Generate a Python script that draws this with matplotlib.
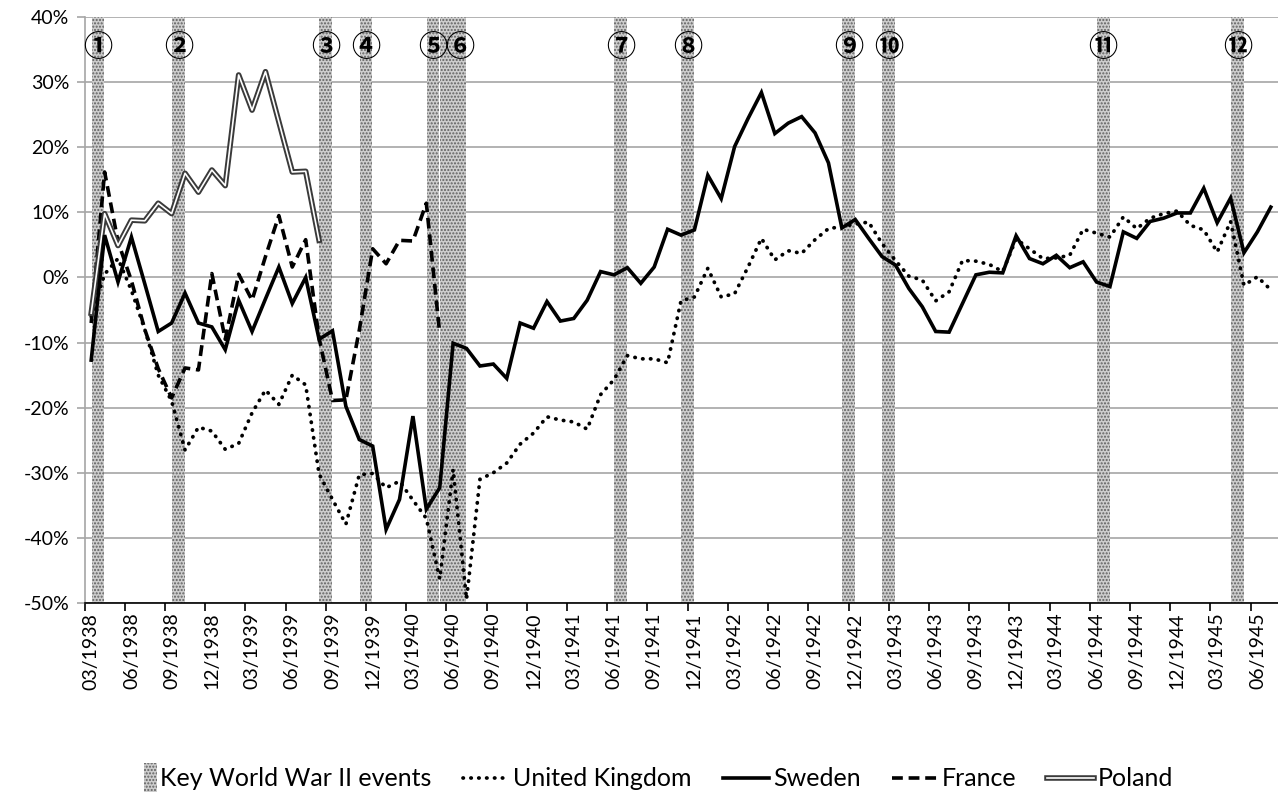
import numpy as np
import matplotlib
matplotlib.use("Agg")
import matplotlib.pyplot as plt
import matplotlib.patches as mpatches
import matplotlib.patheffects as pe
from matplotlib.legend_handler import HandlerPatch

plt.rcParams['font.family'] = ['Lato', 'DejaVu Sans']

# Monthly change, %, from 03/1938 to 07/1945 (one value per month)
sweden = [-12.7, 6.5, -0.7, 6.2, -1.0, -8.3, -7.0, -2.4, -7.0, -7.6,
          -11.1, -3.5, -8.3, -3.3, 1.6, -4.0, 0.0, -9.5, -8.2, -19.8,
          -24.9, -25.9, -38.7, -34.1, -21.3, -35.6, -32.3, -10.1, -10.9, -13.6,
          -13.3, -15.5, -7.0, -7.8, -3.7, -6.7, -6.3, -3.5, 0.9, 0.4,
          1.5, -0.9, 1.6, 7.4, 6.5, 7.3, 15.7, 12.1, 20.1, 24.4,
          28.4, 22.1, 23.7, 24.7, 22.2, 17.6, 7.6, 8.9, 6.0, 3.2,
          1.9, -1.7, -4.5, -8.3, -8.4, -4.0, 0.4, 0.8, 0.7, 6.4,
          2.9, 2.1, 3.4, 1.5, 2.4, -0.7, -1.4, 7.0, 6.0, 8.6,
          9.1, 9.9, 9.9, 13.7, 8.4, 12.2, 3.8, 7.0, 10.8]
uk = [-6.0, 0.5, 2.9, -2.0, -8.0, -15.0, -19.0, -26.5, -23.0, -23.6,
      -26.4, -25.5, -20.8, -17.3, -19.5, -15.0, -16.5, -30.2, -34.1, -37.9,
      -30.3, -30.1, -32.3, -31.3, -34.2, -37.0, -46.3, -29.5, -49.4, -31.0,
      -30.0, -28.5, -25.6, -23.9, -21.4, -21.9, -22.2, -23.3, -18.0, -15.7,
      -12.0, -12.5, -12.5, -13.1, -3.6, -3.0, 1.4, -3.0, -2.5, 1.6,
      6.0, 2.7, 4.1, 3.7, 5.8, 7.5, 7.8, 8.2, 8.5, 5.2,
      2.6, 0.2, -0.4, -3.6, -2.2, 2.6, 2.5, 2.0, 0.9, 5.9,
      4.4, 2.9, 3.0, 3.4, 7.4, 6.8, 6.2, 9.3, 7.5, 9.1,
      9.8, 10.2, 8.0, 7.3, 3.9, 8.6, -1.2, 0.1, -1.9]
france = [-7.0, 16.2, 5.5, -0.5, -8.0, -14.0, -18.5, -13.9, -14.2, 0.6,
          -9.5, 0.5, -3.5, 3.2, 9.5, 1.6, 5.8, -9.3, -18.9, -18.8,
          -8.1, 4.4, 2.1, 5.7, 5.6, 11.4, -8.6]
poland = [-5.5, 9.8, 4.9, 8.8, 8.7, 11.4, 9.8, 16.0, 13.1, 16.5,
          14.1, 31.1, 25.7, 31.6, 23.9, 16.2, 16.3, 5.7]

tick_labels = ['03/1938', '06/1938', '09/1938', '12/1938', '03/1939', '06/1939',
               '09/1939', '12/1939', '03/1940', '06/1940', '09/1940', '12/1940',
               '03/1941', '06/1941', '09/1941', '12/1941', '03/1942', '06/1942',
               '09/1942', '12/1942', '03/1943', '06/1943', '09/1943', '12/1943',
               '03/1944', '06/1944', '09/1944', '12/1944', '03/1945', '06/1945']

# key events, given as month boundaries (between month k-1 and month k)
event_bounds = [1, 7, 18, 21, 26, 27, 28, 40, 45, 57, 60, 76, 86]
marker_bounds = [1, 7, 18, 21, 26, 28, 40, 45, 57, 60, 76, 86]
marker_text = ['①', '②', '③', '④', '⑤', '⑥', '⑦', '⑧', '⑨', '⑩', '⑪', '⑫']

fig = plt.figure(figsize=(12.78, 7.94), dpi=100)
ax = fig.add_axes([84.5 / 1278, 1 - 603 / 794, 1193 / 1278, 586 / 794])

grey = '#a6a6a6'
ax.yaxis.grid(True, color=grey, lw=1.2, zorder=0)
ax.set_axisbelow(True)

bars = ax.bar(np.array(event_bounds) - 0.5, 90, bottom=-50, width=0.95,
              facecolor='#cdcdcd', edgecolor='#606060', linewidth=0,
              hatch='.....', zorder=1.5)

ax.plot(np.arange(len(uk)), uk, color='black', lw=2.7, linestyle=(0, (0.1, 2.0)),
        dash_capstyle='round', zorder=3, label='United Kingdom')
ax.plot(np.arange(len(sweden)), sweden, color='black', lw=2.6, zorder=4,
        solid_joinstyle='miter', label='Sweden')
ax.plot(np.arange(len(france)), france, color='black', lw=2.6, linestyle=(0, (3, 1.6)),
        zorder=3, label='France')
ax.plot(np.arange(len(poland)), poland, color='white', lw=1.2, zorder=3, label='Poland',
        path_effects=[pe.Stroke(linewidth=4.0, foreground='#3a3a3a'), pe.Normal()])

for b, t in zip(marker_bounds, marker_text):
    ax.text(b - 0.5, 35.4, t, ha='center', va='center', fontsize=21, fontweight='bold',
            family=['Noto Sans CJK JP', 'DejaVu Sans'], zorder=5)

ax.set_xlim(-0.5, 88.5)
ax.set_ylim(-50, 40)
ax.set_yticks(np.arange(-50, 41, 10))
ax.yaxis.set_major_formatter(plt.FuncFormatter(lambda v, p: f'{v:.0f}%'))
ax.tick_params(axis='y', length=6, color=grey, width=1.2, pad=5, labelsize=14)

ax.set_xticks(np.arange(0, 89, 3))
ax.set_xticklabels(tick_labels, rotation=90, fontsize=14)
ax.set_xticks(np.arange(-0.5, 88.5, 3), minor=True)
ax.tick_params(axis='x', which='major', length=0, pad=7)
ax.tick_params(axis='x', which='minor', length=6, width=1.2, color='black')

for s in ['top', 'right']:
    ax.spines[s].set_visible(False)
ax.spines['left'].set_color(grey)
ax.spines['left'].set_linewidth(1.2)
ax.spines['bottom'].set_color('black')
ax.spines['bottom'].set_linewidth(1.2)


def small_box(legend, orig_handle, xdescent, ydescent, width, height, fontsize):
    return mpatches.Rectangle((width * 0.72 - xdescent, -ydescent - 4), width * 0.28, height + 8)


handles, labels = ax.get_legend_handles_labels()
handles = [bars.patches[0]] + handles
labels = ['Key World War II events'] + labels
fig.legend(handles, labels, loc='center', bbox_to_anchor=(0.502, 0.019), ncol=5,
           frameon=False, fontsize=18, handlelength=1.85, handletextpad=0.15,
           columnspacing=1.25, handler_map={mpatches.Rectangle: HandlerPatch(patch_func=small_box)})

fig.savefig('out.png', dpi=100)
